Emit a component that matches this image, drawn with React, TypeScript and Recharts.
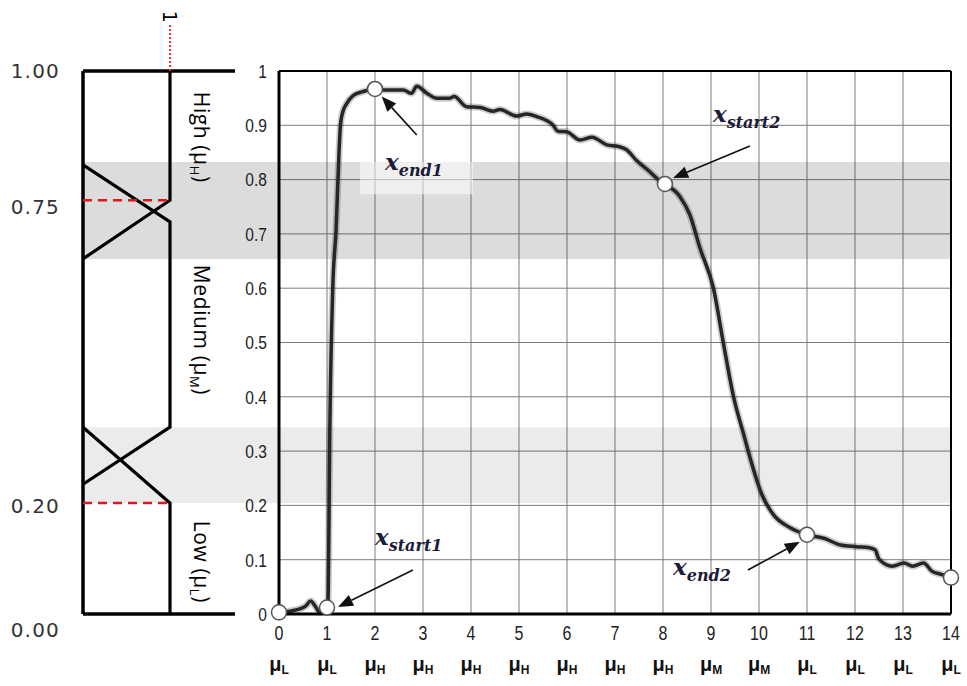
import React from 'react';
import {
  ComposedChart, LineChart, Line, Scatter, XAxis, YAxis, CartesianGrid,
  ReferenceArea, ReferenceLine, ReferenceDot,
} from 'recharts';

// ---------- main chart data ----------
const CURVE_X = [0, 0.28, 0.56, 0.66, 0.75, 0.85, 1.0, 1.02, 1.06, 1.12, 1.19, 1.25, 1.28, 1.33, 1.41, 1.55, 1.75, 2,
  2.24, 2.59, 2.76, 2.87, 3.08, 3.28, 3.56, 3.65, 3.91, 4.19, 4.46, 4.6, 4.95, 5.16, 5.37, 5.71, 5.81, 5.99,
  6.27, 6.52, 6.83, 7.07, 7.24, 7.45, 7.73, 7.9, 8.04, 8.35, 8.56, 8.77, 9.05, 9.26, 9.47, 9.68, 9.81, 10.06,
  10.3, 10.65, 10.96, 11.37, 11.7, 12.03, 12.3, 12.42, 12.5, 12.78, 13.02, 13.2, 13.43, 13.6, 13.8, 14];
const CURVE_Y = [0.003, 0.006, 0.015, 0.024, 0.015, 0.003, 0.012, 0.02, 0.35, 0.6, 0.71, 0.85, 0.9, 0.925, 0.94, 0.955, 0.962, 0.967,
  0.965, 0.965, 0.959, 0.972, 0.959, 0.95, 0.95, 0.953, 0.934, 0.933, 0.926, 0.929, 0.917, 0.921, 0.916, 0.9, 0.889, 0.888,
  0.873, 0.878, 0.864, 0.861, 0.855, 0.835, 0.814, 0.8, 0.792, 0.769, 0.735, 0.674, 0.6, 0.498, 0.4, 0.331, 0.289, 0.22,
  0.183, 0.159, 0.147, 0.139, 0.127, 0.124, 0.122, 0.118, 0.101, 0.088, 0.094, 0.088, 0.094, 0.079, 0.073, 0.067];

const MARK_X = [0, 1.0, 2, 8.04, 11, 14];
const MARK_Y = [0.003, 0.012, 0.967, 0.792, 0.146, 0.067];

const X_TICKS = [0, 1, 2, 3, 4, 5, 6, 7, 8, 9, 10, 11, 12, 13, 14];
const MU_SUBS = ['L', 'L', 'H', 'H', 'H', 'H', 'H', 'H', 'H', 'M', 'M', 'L', 'L', 'L', 'L'];
const Y_TICKS = [0, 0.1, 0.2, 0.3, 0.4, 0.5, 0.6, 0.7, 0.8, 0.9, 1];

// shaded transition bands (value ranges)
const BAND_HI = [0.654, 0.8325];
const BAND_LO = [0.2045, 0.344];
const LABEL_BOX_X = [1.69, 4.04];
const LABEL_BOX_Y = [0.773, 0.8325];

// annotations
const ANN_SUB = ['end1', 'start1', 'start2', 'end2'];
const ANN_TX = [2.21, 2.0, 9.04, 8.21];
const ANN_TY = [0.818, 0.127, 0.906, 0.072];
const ARR_FROM_X = [2.87, 2.79, 9.81, 9.77];
const ARR_FROM_Y = [0.882, 0.081, 0.862, 0.081];
const ARR_TO_X = [2.14, 1.23, 8.21, 10.85];
const ARR_TO_Y = [0.953, 0.013, 0.803, 0.133];

// ---------- left (membership) panel data ----------
const LEFT_TICKS = [0, 0.2, 0.75, 1];
const FRAME_TOP = [{ m: 0, v: 1 }, { m: 1.747, v: 1 }];
const FRAME_BOTTOM = [{ m: 0, v: 0 }, { m: 1.747, v: 0 }];
const FRAME_LEFT = [{ m: 0, v: 0 }, { m: 0, v: 1 }];
const MF_HIGH = [{ m: 1, v: 1 }, { m: 1, v: 0.762 }, { m: 0, v: 0.654 }];
const MF_MEDIUM = [{ m: 0, v: 0.827 }, { m: 1, v: 0.722 }, { m: 1, v: 0.344 }, { m: 0, v: 0.239 }];
const MF_LOW = [{ m: 0, v: 0.344 }, { m: 1, v: 0.2045 }, { m: 1, v: 0 }];
const CUT_HIGH = [{ m: 0, v: 0.762 }, { m: 1, v: 0.762 }];
const CUT_LOW = [{ m: 0, v: 0.2045 }, { m: 1, v: 0.2045 }];
const ONE_MARK = [{ m: 1, v: 1 }, { m: 1, v: 1.085 }];
const MF_NAMES = ['High (μ', 'Medium (μ', 'Low (μ'];
const MF_SUBS = ['H', 'M', 'L'];
const MF_LABEL_V = [0.878, 0.523, 0.096];

const curveData = CURVE_X.map((x, i) => ({ x, y: CURVE_Y[i] }));
const markData = MARK_X.map((x, i) => ({ x, y: MARK_Y[i] }));

const SANS = "'Liberation Sans', Arial, sans-serif";

const Arrow = (p: any) => {
  const { x1, y1, x2, y2 } = p;
  const dx = x2 - x1, dy = y2 - y1;
  const len = Math.sqrt(dx * dx + dy * dy);
  const ux = dx / len, uy = dy / len;
  const hl = 15, hw = 6;
  const bx = x2 - ux * hl, by = y2 - uy * hl;
  const pts = `${x2},${y2} ${bx - uy * hw},${by + ux * hw} ${bx + uy * hw},${by - ux * hw}`;
  return (
    <g>
      <line x1={x1} y1={y1} x2={bx} y2={by} stroke="#111" strokeWidth={1.6} />
      <polygon points={pts} fill="#111" />
    </g>
  );
};

const XTick = (p: any) => {
  const { x, y, payload } = p;
  return (
    <g>
      <text transform={`translate(${x}, ${y + 26}) scale(0.8, 1)`} textAnchor="middle" fontFamily={SANS}
        fontSize={20} fill="#222">{payload.value}</text>
      <text x={x} y={y + 57} textAnchor="middle" fontFamily={SANS} fontWeight="bold" fill="#111">
        <tspan fontSize={20}>μ</tspan>
        <tspan fontSize={12} dy={3}>{MU_SUBS[payload.value]}</tspan>
      </text>
    </g>
  );
};

const YTick = (p: any) => {
  const { x, y, payload } = p;
  return (
    <text transform={`translate(${x}, ${y}) scale(0.82, 1)`} dy="0.36em" textAnchor="end" fontFamily={SANS}
      fontSize={19} fill="#222">{String(payload.value)}</text>
  );
};

const LeftTick = (p: any) => {
  const { x, y, payload } = p;
  const off = payload.value === 0 ? 16 : 0;
  return (
    <text x={x} y={y + off} dy="0.36em" textAnchor="end" fontFamily="'DejaVu Sans', sans-serif" fontSize={20}
      letterSpacing={1.2} fill="#333">
      {payload.value.toFixed(2)}
    </text>
  );
};

export default function App() {
  return (
    <div style={{ position: 'absolute', left: 0, top: 0, width: 967, height: 686, background: '#fff' }}>
      <div style={{ position: 'absolute', left: 0, top: 0 }}>
        <LineChart width={300} height={686} margin={{ top: 5.84, right: 21, bottom: 72, left: 0 }}>
          <XAxis type="number" dataKey="m" domain={[0, 2.253]} hide />
          <YAxis type="number" dataKey="v" domain={[0, 1.12]} ticks={LEFT_TICKS} width={83} axisLine={false}
            tickLine={false} tickSize={0} tickMargin={23} tick={<LeftTick />} />
          <ReferenceArea x1={0} x2={2.253} y1={BAND_HI[0]} y2={BAND_HI[1]} fill="#000" fillOpacity={0.137} stroke="none" />
          <ReferenceArea x1={0} x2={2.253} y1={BAND_LO[0]} y2={BAND_LO[1]} fill="#000" fillOpacity={0.08} stroke="none" />
          <Line data={FRAME_TOP} dataKey="v" stroke="#000" strokeWidth={3.5} dot={false} isAnimationActive={false} />
          <Line data={FRAME_BOTTOM} dataKey="v" stroke="#000" strokeWidth={3.5} dot={false} isAnimationActive={false} />
          <Line data={FRAME_LEFT} dataKey="v" stroke="#000" strokeWidth={3.5} dot={false} isAnimationActive={false} />
          <Line data={MF_HIGH} dataKey="v" stroke="#000" strokeWidth={3.2} dot={false} isAnimationActive={false} />
          <Line data={MF_MEDIUM} dataKey="v" stroke="#000" strokeWidth={3.2} dot={false} isAnimationActive={false} />
          <Line data={MF_LOW} dataKey="v" stroke="#000" strokeWidth={3.2} dot={false} isAnimationActive={false} />
          <Line data={CUT_HIGH} dataKey="v" stroke="#e8121a" strokeWidth={2.5} strokeDasharray="9 6" dot={false} isAnimationActive={false} />
          <Line data={CUT_LOW} dataKey="v" stroke="#e8121a" strokeWidth={2.5} strokeDasharray="9 6" dot={false} isAnimationActive={false} />
          <Line data={ONE_MARK} dataKey="v" stroke="#ff3030" strokeWidth={2} strokeDasharray="2 2" dot={false} isAnimationActive={false} />
          <ReferenceDot x={1} y={1.1} r={0} ifOverflow="visible"
            shape={(p: any) => (
              <text x={p.cx} y={p.cy} transform={`rotate(90, ${p.cx}, ${p.cy})`} textAnchor="middle" dy="0.35em"
                fontFamily="'DejaVu Sans', sans-serif" fontSize={19} fill="#000">1</text>
            )} />
          {MF_NAMES.map((n, i) => (
            <ReferenceDot key={n} x={1.356} y={MF_LABEL_V[i]} r={0} ifOverflow="visible"
              shape={(p: any) => (
                <text x={p.cx} y={p.cy} transform={`rotate(90, ${p.cx}, ${p.cy})`} textAnchor="middle" dy="0.35em"
                  fontFamily="'Open Sans', 'Noto Sans', sans-serif" fontSize={21} letterSpacing={0.6} fill="#000">
                  <tspan>{n}</tspan>
                  <tspan fontSize={13} dy={4}>{MF_SUBS[i]}</tspan>
                  <tspan dy={-4}>)</tspan>
                </text>
              )} />
          ))}
        </LineChart>
      </div>
      <div style={{ position: 'absolute', left: 0, top: 0 }}>
        <ComposedChart width={967} height={686} margin={{ top: 71, right: 16, bottom: 0, left: 0 }}>
          <XAxis xAxisId="num" type="number" dataKey="x" domain={[0, 14]} ticks={X_TICKS} height={72}
            axisLine={{ stroke: '#000', strokeWidth: 3 }} tickLine={false} tickSize={0} tickMargin={0}
            tick={<XTick />} />
          <YAxis type="number" domain={[0, 1]} ticks={Y_TICKS} width={279}
            axisLine={{ stroke: '#000', strokeWidth: 3 }} tickLine={false} tickSize={6} tickMargin={6}
            tick={<YTick />} />
          <ReferenceArea xAxisId="num" x1={0} x2={14} y1={BAND_HI[0]} y2={BAND_HI[1]} fill="#000" fillOpacity={0.137} stroke="none" />
          <ReferenceArea xAxisId="num" x1={0} x2={14} y1={BAND_LO[0]} y2={BAND_LO[1]} fill="#000" fillOpacity={0.08} stroke="none" />
          <ReferenceArea xAxisId="num" x1={LABEL_BOX_X[0]} x2={LABEL_BOX_X[1]} y1={LABEL_BOX_Y[0]} y2={LABEL_BOX_Y[1]}
            fill="#fff" fillOpacity={0.55} stroke="none" />
          <CartesianGrid xAxisId="num" stroke="#7d7d7d" strokeWidth={1} />
          <ReferenceLine xAxisId="num" x={14} stroke="#000" strokeWidth={2} />
          <ReferenceLine xAxisId="num" y={1} stroke="#000" strokeWidth={2} />
          {ANN_SUB.map((s, i) => (
            <ReferenceLine key={'a' + s} xAxisId="num"
              segment={[{ x: ARR_FROM_X[i], y: ARR_FROM_Y[i] }, { x: ARR_TO_X[i], y: ARR_TO_Y[i] }]}
              shape={(p: any) => <Arrow {...p} />} />
          ))}
          <Line xAxisId="num" data={curveData} dataKey="y" type="monotone" stroke="#000" strokeOpacity={0.2}
            strokeWidth={7} dot={false} isAnimationActive={false} />
          <Line xAxisId="num" data={curveData} dataKey="y" type="monotone" stroke="#262626"
            strokeWidth={3.5} dot={false} isAnimationActive={false} />
          <Scatter xAxisId="num" data={markData} dataKey="y" isAnimationActive={false}
            shape={(p: any) => <circle cx={p.cx} cy={p.cy} r={7.5} fill="#fff" stroke="#555" strokeWidth={1.5} />} />
          {ANN_SUB.map((s, i) => (
            <ReferenceDot key={'t' + s} xAxisId="num" x={ANN_TX[i]} y={ANN_TY[i]} r={0}
              shape={(p: any) => (
                <text x={p.cx} y={p.cy} fontFamily="'DejaVu Serif', serif" fontWeight="bold" fontStyle="italic" fill="#1c1c38">
                  <tspan fontSize={23}>x</tspan>
                  <tspan fontSize={16} dy={6}>{s}</tspan>
                </text>
              )} />
          ))}
        </ComposedChart>
      </div>
    </div>
  );
}
